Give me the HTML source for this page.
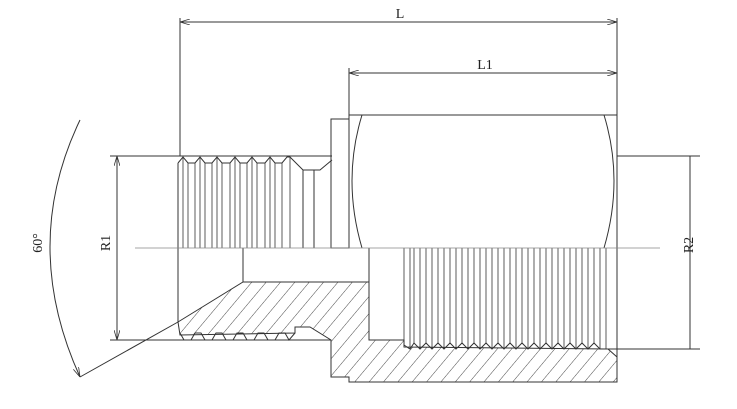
<!DOCTYPE html>
<html><head><meta charset="utf-8"><style>
html,body{margin:0;padding:0;background:#fff;width:737px;height:409px;overflow:hidden}
text{font-family:"Liberation Serif",serif;font-size:14px;fill:#222}
</style></head><body>
<svg width="737" height="409" viewBox="0 0 737 409" xmlns="http://www.w3.org/2000/svg">
<defs>
<pattern id="h" width="11" height="11" patternUnits="userSpaceOnUse" patternTransform="rotate(40)">
<line x1="0" y1="0" x2="0" y2="11" stroke="#333" stroke-width="0.9"/>
</pattern>
<marker id="a" markerWidth="10" markerHeight="6" refX="10" refY="3" orient="auto-start-reverse" markerUnits="userSpaceOnUse">
<path d="M0,0 L10,3 L0,6" fill="none" stroke="#333" stroke-width="0.8"/>
</marker>
</defs>
<g fill="none" stroke="#333" stroke-width="1">
<polygon fill="url(#h)" points="178,322 243,282 369,282 369,340 404,340 404,347 608,349 617,357 617,382 349,382 349,377 331,377 331,340 310,327 295,327 295,333 180,335"/>
<polyline points="180,333 184,340 191,340 195,333 201,333 205,340 212,340 216,333 222,333 226,340 233,340 237,333 243,333 247,340 254,340 258,333 264,333 268,340 275,340 279,333 285,333 289,340 295,333"/>
<polyline points="404,345 410,349 414,343 420,349 426,343 432,349 438,343 444,349 450,343 456,349 462,343 468,349 474,343 480,349 486,343 492,349 498,343 504,349 510,343 516,349 522,343 528,349 534,343 540,349 546,343 552,349 558,343 564,349 570,343 576,349 582,343 588,349 594,343 600,349 608,349"/>
<g stroke-width="0.8">
<line x1="404" y1="248" x2="404" y2="345"/><line x1="410" y1="248" x2="410" y2="349"/><line x1="414" y1="248" x2="414" y2="343"/>
<line x1="420" y1="248" x2="420" y2="349"/><line x1="426" y1="248" x2="426" y2="343"/><line x1="432" y1="248" x2="432" y2="349"/>
<line x1="438" y1="248" x2="438" y2="343"/><line x1="444" y1="248" x2="444" y2="349"/><line x1="450" y1="248" x2="450" y2="343"/>
<line x1="456" y1="248" x2="456" y2="349"/><line x1="462" y1="248" x2="462" y2="343"/><line x1="468" y1="248" x2="468" y2="349"/>
<line x1="474" y1="248" x2="474" y2="343"/><line x1="480" y1="248" x2="480" y2="349"/><line x1="486" y1="248" x2="486" y2="343"/>
<line x1="492" y1="248" x2="492" y2="349"/><line x1="498" y1="248" x2="498" y2="343"/><line x1="504" y1="248" x2="504" y2="349"/>
<line x1="510" y1="248" x2="510" y2="343"/><line x1="516" y1="248" x2="516" y2="349"/><line x1="522" y1="248" x2="522" y2="343"/>
<line x1="528" y1="248" x2="528" y2="349"/><line x1="534" y1="248" x2="534" y2="343"/><line x1="540" y1="248" x2="540" y2="349"/>
<line x1="546" y1="248" x2="546" y2="343"/><line x1="552" y1="248" x2="552" y2="349"/><line x1="558" y1="248" x2="558" y2="343"/>
<line x1="564" y1="248" x2="564" y2="349"/><line x1="570" y1="248" x2="570" y2="343"/><line x1="576" y1="248" x2="576" y2="349"/>
<line x1="582" y1="248" x2="582" y2="343"/><line x1="588" y1="248" x2="588" y2="349"/><line x1="594" y1="248" x2="594" y2="343"/>
<line x1="600" y1="248" x2="600" y2="349"/><line x1="606" y1="248" x2="606" y2="349"/>
</g>
<polyline points="178,163 183,157 188,163 195,163 200,157 205,163 212,163 217,157 222,163 230,163 235,157 240,163 247,163 252,157 257,163 265,163 270,157 275,163 282,163 287,157 290,157 303,170 320,170 332,160"/>
<line x1="178" y1="163" x2="178" y2="248"/>
<g stroke-width="0.8">
<line x1="183" y1="157" x2="183" y2="248"/><line x1="188" y1="163" x2="188" y2="248"/><line x1="195" y1="163" x2="195" y2="248"/>
<line x1="200" y1="157" x2="200" y2="248"/><line x1="205" y1="163" x2="205" y2="248"/><line x1="212" y1="163" x2="212" y2="248"/>
<line x1="217" y1="157" x2="217" y2="248"/><line x1="222" y1="163" x2="222" y2="248"/><line x1="230" y1="163" x2="230" y2="248"/>
<line x1="235" y1="157" x2="235" y2="248"/><line x1="240" y1="163" x2="240" y2="248"/><line x1="247" y1="163" x2="247" y2="248"/>
<line x1="252" y1="157" x2="252" y2="248"/><line x1="257" y1="163" x2="257" y2="248"/><line x1="265" y1="163" x2="265" y2="248"/>
<line x1="270" y1="157" x2="270" y2="248"/><line x1="275" y1="163" x2="275" y2="248"/><line x1="282" y1="163" x2="282" y2="248"/>
<line x1="290" y1="157" x2="290" y2="248"/>
</g>
<line x1="303" y1="170" x2="303" y2="248"/><line x1="314" y1="170" x2="314" y2="248"/>
<rect x="331" y="119" width="18" height="129"/>
<line x1="349" y1="115" x2="617" y2="115"/>
<line x1="617" y1="18" x2="617" y2="382"/>
<line x1="349" y1="68" x2="349" y2="248"/>
<path d="M362,115 Q342,180 362,248"/>
<path d="M604,115 Q624,180 604,248"/>
<line x1="178" y1="248" x2="178" y2="322"/>
<line x1="243" y1="248" x2="243" y2="282"/>
<line x1="369" y1="248" x2="369" y2="282"/>
<line x1="180" y1="18" x2="180" y2="156"/>
<line x1="180" y1="22" x2="617" y2="22" marker-start="url(#a)" marker-end="url(#a)"/>
<line x1="349" y1="73" x2="617" y2="73" marker-start="url(#a)" marker-end="url(#a)"/>
<line x1="110" y1="156" x2="332" y2="156"/>
<line x1="110" y1="340" x2="331" y2="340"/>
<line x1="117" y1="156" x2="117" y2="340" marker-start="url(#a)" marker-end="url(#a)"/>
<line x1="617" y1="156" x2="700" y2="156"/>
<line x1="608" y1="349" x2="700" y2="349"/>
<line x1="690" y1="156" x2="690" y2="349"/>
<path d="M80,120 Q20,245 80,377" marker-end="url(#a)"/>
<line x1="80" y1="377" x2="178" y2="322"/>
</g>
<line x1="135" y1="248" x2="660" y2="248" stroke="#888" stroke-width="0.7"/>
<text x="400" y="18" text-anchor="middle">L</text>
<text x="485" y="69" text-anchor="middle">L1</text>
<text transform="translate(110,243) rotate(-90)" text-anchor="middle">R1</text>
<text transform="translate(693,245) rotate(-90)" text-anchor="middle">R2</text>
<text transform="translate(42,243) rotate(-90)" text-anchor="middle">60°</text>
</svg>
</body></html>
